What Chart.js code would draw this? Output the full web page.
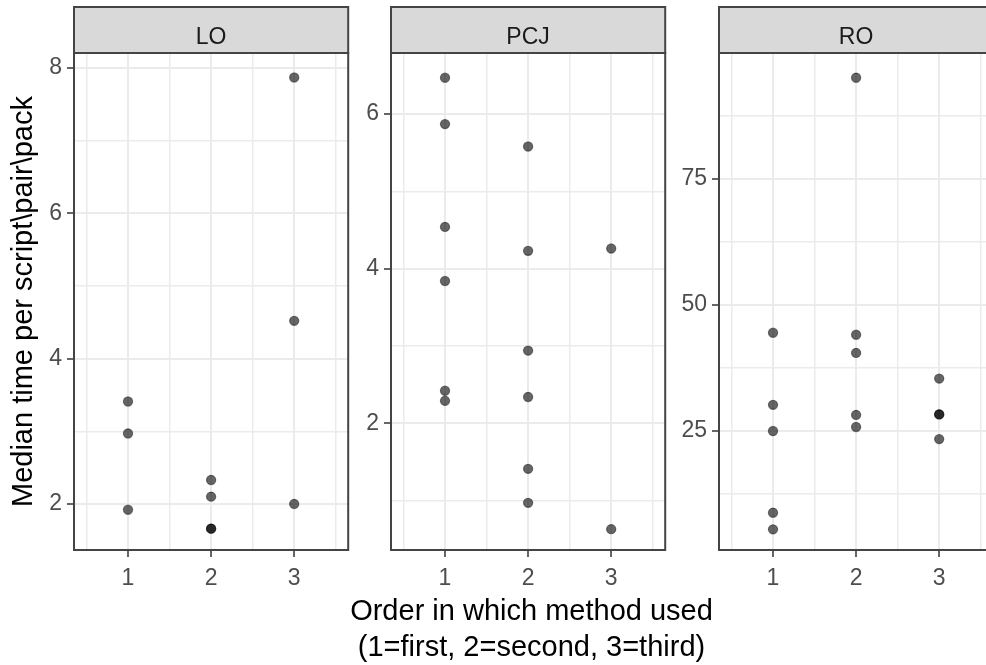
<!DOCTYPE html>
<html>
<head>
<meta charset="utf-8">
<script src="https://cdn.jsdelivr.net/npm/chart.js@4.4.0/dist/chart.umd.min.js"></script>
<style>
  html, body { margin: 0; padding: 0; background: #fff; overflow: hidden; }
  body { width: 986px; height: 665px; position: relative; }
  canvas { position: absolute; top: 0; }
  #xtitle {
    position: absolute; left: 231.5px; width: 600px; top: 591.6px;
    text-align: center; font-family: "Liberation Sans", Arial, sans-serif;
    font-size: 29px; line-height: 36.7px; color: #000;
  }
</style>
</head>
<body>
<canvas id="lo" width="354" height="600" style="left:0px"></canvas>
<canvas id="pcj" width="328" height="600" style="left:343px"></canvas>
<canvas id="ro" width="332" height="600" style="left:667px"></canvas>
<div id="xtitle">Order in which method used<br>(1=first, 2=second, 3=third)</div>
<script>
// facet labels
const panels = ['LO', 'PCJ', 'RO'];

// median time per order (1=first, 2=second, 3=third)
const loOrder1 = [3.41, 2.97, 1.92];
const loOrder2 = [2.33, 2.10, 1.66, 1.66];
const loOrder3 = [7.87, 4.52, 2.00];

const pcjOrder1 = [6.47, 5.87, 4.54, 3.84, 2.42, 2.29];
const pcjOrder2 = [5.58, 4.23, 2.94, 2.34, 1.41, 0.97];
const pcjOrder3 = [4.26, 0.63];

const roOrder1 = [44.4, 30.1, 24.9, 8.7, 5.4];
const roOrder2 = [95.0, 44.0, 40.4, 28.1, 25.7];
const roOrder3 = [35.3, 28.2, 28.2, 23.3];

// axes
const xGrid = [0.5, 1, 1.5, 2, 2.5, 3, 3.5];
const xMajor = [1, 2, 3];

const loYGrid = [2, 3, 4, 5, 6, 7, 8];
const loYMajor = [2, 4, 6, 8];
const pcjYGrid = [1, 2, 3, 4, 5, 6];
const pcjYMajor = [2, 4, 6];
const roYGrid = [12.5, 25, 37.5, 50, 62.5, 75, 87.5];
const roYMajor = [25, 50, 75];

const FONT = '"Liberation Sans", Arial, sans-serif';
const STRIP_TOP = 7;

function toPoints(o1, o2, o3) {
  return [].concat(
    o1.map(v => ({ x: 1, y: v })),
    o2.map(v => ({ x: 2, y: v })),
    o3.map(v => ({ x: 3, y: v }))
  );
}

// strip + panel border, drawn on top like ggplot does
const facetFrame = {
  id: 'facetFrame',
  afterDraw(chart, args, opts) {
    const { ctx, chartArea: a } = chart;
    ctx.save();
    ctx.fillStyle = '#d9d9d9';
    ctx.fillRect(a.left, STRIP_TOP, a.right - a.left, a.top - STRIP_TOP);
    ctx.strokeStyle = '#444';
    ctx.lineWidth = 2;
    ctx.strokeRect(a.left, STRIP_TOP, a.right - a.left, a.top - STRIP_TOP);
    ctx.strokeRect(a.left, a.top, a.right - a.left, a.bottom - a.top);
    ctx.fillStyle = '#1a1a1a';
    ctx.font = '23px ' + FONT;
    ctx.textAlign = 'center';
    ctx.textBaseline = 'alphabetic';
    ctx.fillText(opts.label, (a.left + a.right) / 2, 43.5);
    ctx.restore();
  }
};

function makePanel(id, label, points, yMin, yMax, yGrid, yMajor, yWidth, withTitle) {
  const isMajor = (list) => (c) => c.tick && list.includes(c.tick.value);
  const xm = isMajor(xMajor);
  const ym = isMajor(yMajor);
  return new Chart(document.getElementById(id), {
    type: 'scatter',
    data: {
      datasets: [{
        data: points,
        pointRadius: 4.6,
        backgroundColor: 'rgba(0,0,0,0.6)',
        borderColor: 'rgba(0,0,0,0.45)',
        borderWidth: 1.2
      }]
    },
    options: {
      responsive: false,
      animation: false,
      devicePixelRatio: 1,
      events: [],
      layout: { padding: { top: 53, right: 2, bottom: 0, left: 0 } },
      plugins: {
        legend: { display: false },
        tooltip: { enabled: false },
        facetFrame: { label: label }
      },
      scales: {
        x: {
          type: 'linear',
          min: 0.35,
          max: 3.65,
          afterBuildTicks: (axis) => { axis.ticks = xGrid.map(v => ({ value: v })); },
          afterFit: (axis) => { axis.height = 50; },
          border: { display: false },
          grid: {
            color: '#ebebeb',
            lineWidth: (c) => xm(c) ? 2 : 1.5,
            tickColor: (c) => xm(c) ? '#333' : 'rgba(0,0,0,0)',
            tickLength: 7,
            tickWidth: 1.5
          },
          ticks: {
            autoSkip: false,
            maxRotation: 0,
            padding: 8,
            color: '#4d4d4d',
            font: { family: FONT, size: 23 },
            callback: (v) => xMajor.includes(v) ? String(v) : ''
          }
        },
        y: {
          type: 'linear',
          min: yMin,
          max: yMax,
          afterBuildTicks: (axis) => { axis.ticks = yGrid.map(v => ({ value: v })); },
          afterFit: (axis) => { axis.width = yWidth; },
          border: { display: false },
          grid: {
            color: '#ebebeb',
            lineWidth: (c) => ym(c) ? 2 : 1.5,
            tickColor: (c) => ym(c) ? '#333' : 'rgba(0,0,0,0)',
            tickLength: 7,
            tickWidth: 1.5
          },
          ticks: {
            autoSkip: false,
            padding: 5,
            color: '#4d4d4d',
            font: { family: FONT, size: 23 },
            callback: (v) => yMajor.includes(v) ? String(v) : ''
          },
          title: {
            display: withTitle,
            text: 'Median time per script\\pair\\pack',
            color: '#000',
            font: { family: FONT, size: 29 },
            padding: { top: 7, bottom: 0 }
          }
        }
      }
    },
    plugins: [facetFrame]
  });
}

makePanel('lo', panels[0], toPoints(loOrder1, loOrder2, loOrder3), 1.366, 8.207, loYGrid, loYMajor, 74, true);
makePanel('pcj', panels[1], toPoints(pcjOrder1, pcjOrder2, pcjOrder3), 0.36, 6.79, pcjYGrid, pcjYMajor, 48, false);
makePanel('ro', panels[2], toPoints(roOrder1, roOrder2, roOrder3), 1.3, 99.9, roYGrid, roYMajor, 52, false);
</script>
</body>
</html>
